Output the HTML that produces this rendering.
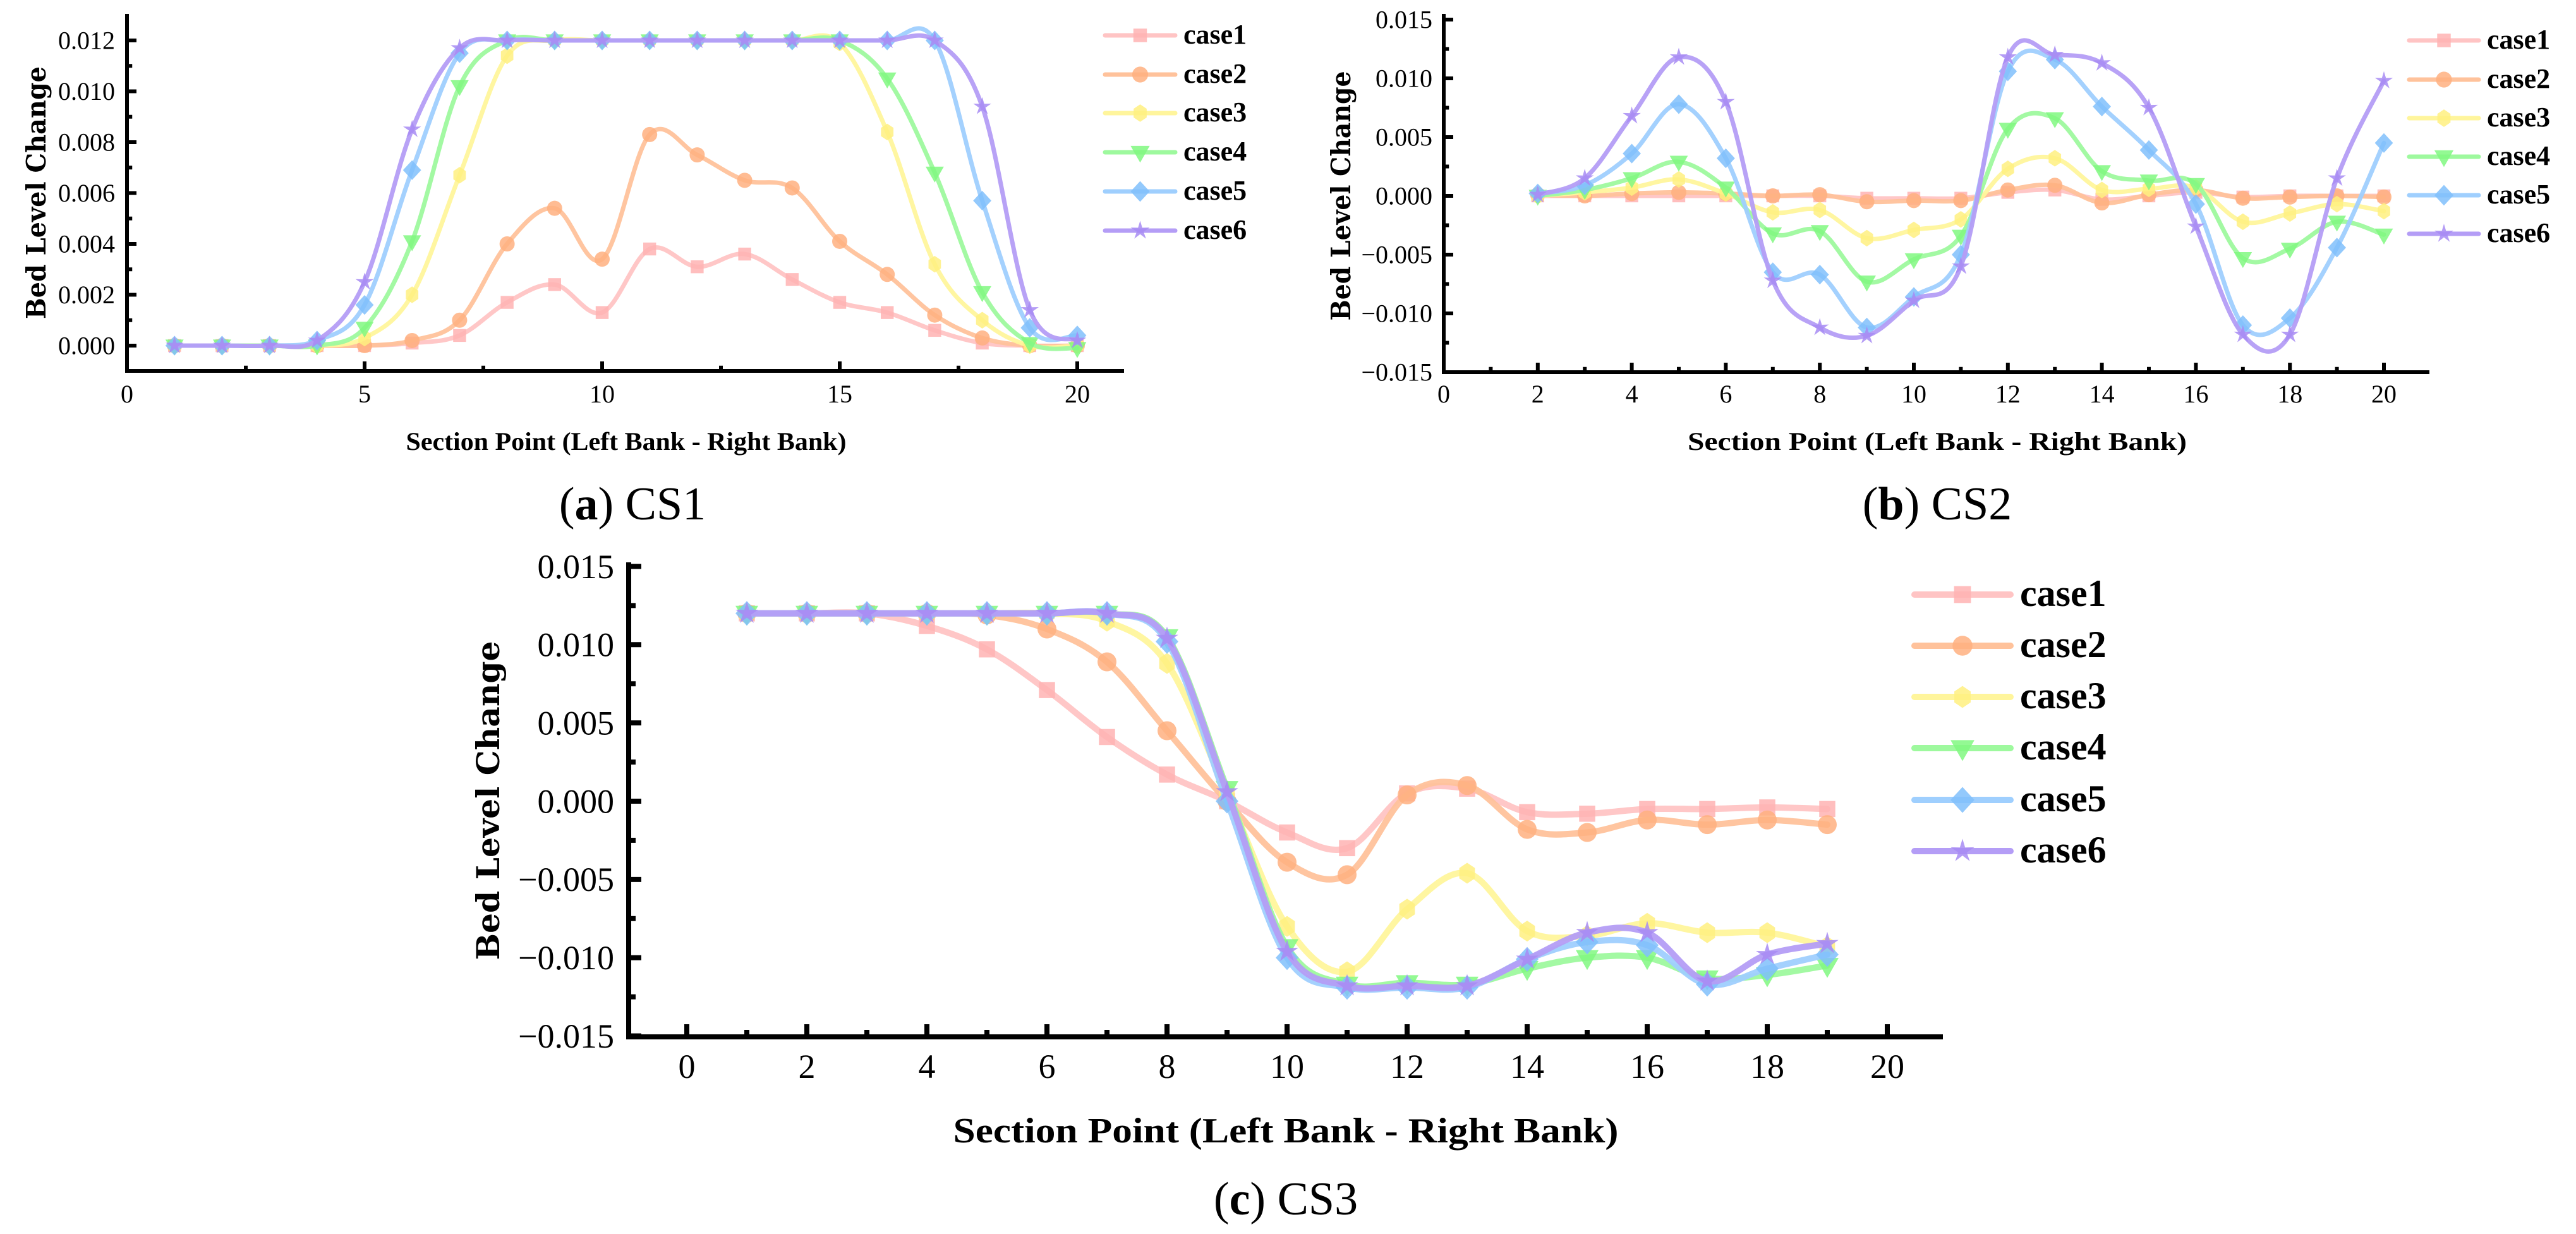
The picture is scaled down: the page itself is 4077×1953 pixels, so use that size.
<!DOCTYPE html>
<html><head><meta charset="utf-8">
<style>
html,body{margin:0;padding:0;background:#fff;}
svg{display:block;}
text{font-family:"Liberation Serif","Times New Roman",serif;fill:#000;}
</style></head>
<body>
<svg id="fig" width="4077" height="1953" viewBox="0 0 4077 1953" xmlns="http://www.w3.org/2000/svg"></svg>
<script>
// ---- data: panel (a) CS1 ----
const xA = [1,2,3,4,5,6,7,8,9,10,11,12,13,14,15,16,17,18,19,20];
const a_case1 = [0,0,0,0,0,0.0001,0.0004,0.0017,0.0024,0.0013,0.0038,0.0031,0.0036,0.0026,0.0017,0.0013,0.0006,0.0001,0,0];
const a_case2 = [0,0,0,0,0,0.0002,0.0010,0.0040,0.0054,0.0034,0.0083,0.0075,0.0065,0.0062,0.0041,0.0028,0.0012,0.0003,0,0];
const a_case3 = [0,0,0,0,0.0003,0.0020,0.0067,0.0114,0.0120,0.0120,0.0120,0.0120,0.0120,0.0120,0.0119,0.0084,0.0032,0.0010,0,0];
const a_case4 = [0,0,0,0,0.0007,0.0041,0.0102,0.0120,0.0120,0.0120,0.0120,0.0120,0.0120,0.0120,0.0120,0.0105,0.0068,0.0021,0.0001,-0.0001];
const a_case5 = [0,0,0,0.0002,0.0016,0.0069,0.0115,0.0120,0.0120,0.0120,0.0120,0.0120,0.0120,0.0120,0.0120,0.0120,0.0120,0.0057,0.0007,0.0004];
const a_case6 = [0,0,0,0.0002,0.0025,0.0085,0.0117,0.0120,0.0120,0.0120,0.0120,0.0120,0.0120,0.0120,0.0120,0.0120,0.0120,0.0094,0.0014,0.0002];
const a_xticks = [0,5,10,15,20];
const a_yticks = [0,0.002,0.004,0.006,0.008,0.010,0.012];
const a_ylabels = ["0.000","0.002","0.004","0.006","0.008","0.010","0.012"];
// ---- data: panel (b) CS2 ----
const xB = [2,3,4,5,6,7,8,9,10,11,12,13,14,15,16,17,18,19,20];
const b_case1 = [0,0,0,0,0,0,0,-0.0002,-0.0002,-0.0002,0.0003,0.0005,-0.0003,0,0.0003,-0.0001,0,0,0];
const b_case2 = [0.0001,0,0.0002,0.0003,0.0002,0,0.0001,-0.0005,-0.0004,-0.0004,0.0005,0.0009,-0.0006,0.0001,0.0005,-0.0002,-0.0001,0,-0.0001];
const b_case3 = [0,0.0003,0.0007,0.0014,0.0002,-0.0014,-0.0012,-0.0036,-0.0029,-0.0020,0.0023,0.0032,0.0005,0.0006,0.0007,-0.0022,-0.0015,-0.0007,-0.0013];
const b_case4 = [0,0.0005,0.0015,0.0029,0.0007,-0.0032,-0.0030,-0.0073,-0.0054,-0.0034,0.0057,0.0066,0.0021,0.0013,0.0010,-0.0053,-0.0045,-0.0022,-0.0033];
const b_case5 = [0.0002,0.0009,0.0036,0.0078,0.0032,-0.0065,-0.0067,-0.0112,-0.0086,-0.0050,0.0106,0.0116,0.0076,0.0039,-0.0007,-0.0110,-0.0104,-0.0044,0.0045];
const b_case6 = [0.0001,0.0015,0.0068,0.0118,0.0080,-0.0072,-0.0112,-0.0119,-0.0089,-0.0060,0.0118,0.0120,0.0113,0.0075,-0.0026,-0.0118,-0.0118,0.0015,0.0098];
const b_xticks = [0,2,4,6,8,10,12,14,16,18,20];
const b_yticks = [-0.015,-0.010,-0.005,0,0.005,0.010,0.015];
const b_ylabels = ["\u22120.015","\u22120.010","\u22120.005","0.000","0.005","0.010","0.015"];
// ---- data: panel (c) CS3 ----
const xC = [1,2,3,4,5,6,7,8,9,10,11,12,13,14,15,16,17,18,19];
const c_case1 = [0.012,0.012,0.012,0.0112,0.0097,0.0071,0.0041,0.0017,0,-0.0020,-0.0030,0.0005,0.0008,-0.0007,-0.0008,-0.0005,-0.0005,-0.0004,-0.0005];
const c_case2 = [0.012,0.012,0.012,0.012,0.0119,0.0110,0.0089,0.0045,0,-0.0039,-0.0047,0.0004,0.0010,-0.0018,-0.0020,-0.0012,-0.0015,-0.0012,-0.0015];
const c_case3 = [0.012,0.012,0.012,0.012,0.012,0.012,0.0115,0.0088,0.0005,-0.0080,-0.0109,-0.0069,-0.0046,-0.0083,-0.0086,-0.0078,-0.0084,-0.0084,-0.0093];
const c_case4 = [0.012,0.012,0.012,0.012,0.012,0.012,0.012,0.0105,0.0008,-0.0093,-0.0117,-0.0116,-0.0117,-0.0107,-0.0100,-0.0100,-0.0113,-0.0111,-0.0105];
const c_case5 = [0.012,0.012,0.012,0.012,0.012,0.012,0.012,0.0102,0,-0.0100,-0.0119,-0.0119,-0.0119,-0.0101,-0.0090,-0.0092,-0.0117,-0.0107,-0.0098];
const c_case6 = [0.012,0.012,0.012,0.012,0.012,0.012,0.012,0.0104,0.0006,-0.0096,-0.0118,-0.0118,-0.0118,-0.0101,-0.0084,-0.0084,-0.0115,-0.0098,-0.0091];
const c_xticks = [0,2,4,6,8,10,12,14,16,18,20];
const c_yticks = [-0.015,-0.010,-0.005,0,0.005,0.010,0.015];
const c_ylabels = ["\u22120.015","\u22120.010","\u22120.005","0.000","0.005","0.010","0.015"];
const seriesNames = ["case1","case2","case3","case4","case5","case6"];

const NS = "http://www.w3.org/2000/svg";
const svg = document.getElementById('fig');
const lineCol = ["#ffc4c4","#ffc29b","#fff59c","#9ef99e","#9fcffe","#b49df6"];
const mkCol = ["#ffb3b3","#ffb080","#fff080","#80f880","#80c0fc","#a78bf3"];
const shapes = ["square","circle","hex","tri","diamond","star"];

function el(tag, attrs, parent){
  const e = document.createElementNS(NS, tag);
  for (const k in attrs) e.setAttribute(k, attrs[k]);
  (parent||svg).appendChild(e); return e;
}
function txt(s, attrs, parent){ const t = el('text', attrs, parent); t.textContent = s; return t; }

function smoothPath(pts){
  let d = "M"+pts[0][0]+","+pts[0][1];
  for (let i=0;i<pts.length-1;i++){
    const p0=pts[Math.max(0,i-1)], p1=pts[i], p2=pts[i+1], p3=pts[Math.min(pts.length-1,i+2)];
    const t=0.17;
    const c1=[p1[0]+(p2[0]-p0[0])*t, p1[1]+(p2[1]-p0[1])*t];
    const c2=[p2[0]-(p3[0]-p1[0])*t, p2[1]-(p3[1]-p1[1])*t];
    d += " C"+c1[0]+","+c1[1]+" "+c2[0]+","+c2[1]+" "+p2[0]+","+p2[1];
  }
  return d;
}
function marker(shape, cx, cy, r, col, parent){
  let e;
  if (shape==="square") e = el('rect',{x:cx-r*0.85,y:cy-r*0.85,width:r*1.7,height:r*1.7},parent);
  else if (shape==="circle") e = el('ellipse',{cx:cx,cy:cy,rx:r,ry:r},parent);
  else if (shape==="hex"){ let p=[]; for(let k=0;k<6;k++){const a=Math.PI/2+k*Math.PI/3; p.push((cx+r*0.95*Math.cos(a))+","+(cy+r*1.1*Math.sin(a)));} e=el('polygon',{points:p.join(" ")},parent); }
  else if (shape==="tri") e = el('polygon',{points:(cx-r*1.2)+","+(cy-r*0.8)+" "+(cx+r*1.2)+","+(cy-r*0.8)+" "+cx+","+(cy+r*1.3)},parent);
  else if (shape==="diamond") e = el('polygon',{points:cx+","+(cy-r*1.3)+" "+(cx+r*1.2)+","+cy+" "+cx+","+(cy+r*1.3)+" "+(cx-r*1.2)+","+cy},parent);
  else { let p=[]; for(let k=0;k<10;k++){const a=-Math.PI/2+k*Math.PI/5; const rr=(k%2?0.45:1.25)*r; p.push((cx+rr*Math.cos(a))+","+(cy+rr*Math.sin(a)));} e=el('polygon',{points:p.join(" ")},parent); }
  e.setAttribute('fill', col); e.setAttribute('fill-opacity','0.85');
  return e;
}

function drawChart(c){
  const g = el('g',{});
  
  
  const X = v => c.x0 + v*c.xs;
  const Y = v => c.y0 - v*c.ys;
  c.series.forEach((ys, si) => {
    const pts = c.xs_data.map((xv,i)=>[X(xv), Y(ys[i])]);
    const sg = el('g',{}, g);
    
    
    const p = el('path',{d:smoothPath(pts),fill:'none',stroke:lineCol[si],'stroke-width':c.lw,'stroke-linecap':'round','stroke-opacity':'0.95'}, sg);
    
    
    pts.forEach(pt => {
      const m = marker(shapes[si], pt[0], pt[1], c.mr, mkCol[si], sg);
      
      
    });
  });
  const ax = el('path',{d:"M"+c.axX+","+c.top+" L"+c.axX+","+c.bot+" L"+c.right+","+c.bot,fill:'none',stroke:'#000','stroke-width':c.aw}, g);
  
  
  c.yticks.forEach((v,i)=>{
    const y=Y(v);
    el('line',{x1:c.axX,x2:c.axX+c.tl,y1:y,y2:y,stroke:'#000','stroke-width':c.aw},g);
    if (i<c.yticks.length-1){ const ym=Y((v+c.yticks[i+1])/2); el('line',{x1:c.axX,x2:c.axX+c.tl*0.55,y1:ym,y2:ym,stroke:'#000','stroke-width':c.aw},g); }
    const t = txt(c.ylabels[i],{x:c.ylx,y:y+c.tf*0.34,'font-size':c.tf,'text-anchor':'end'},g);
    
    
  });
  c.xticks.forEach((v,i)=>{
    const x=X(v);
    el('line',{x1:x,x2:x,y1:c.bot,y2:c.bot-c.tl,stroke:'#000','stroke-width':c.aw},g);
    if (i<c.xticks.length-1){ const xm=X((v+c.xticks[i+1])/2); el('line',{x1:xm,x2:xm,y1:c.bot,y2:c.bot-c.tl*0.55,stroke:'#000','stroke-width':c.aw},g); }
    const t = txt(String(v),{x:x,y:c.xly,'font-size':c.tf,'text-anchor':'middle'},g);
    
    
  });
  const xt = txt("Section Point (Left Bank - Right Bank)",{x:c.xtx,y:c.xty,'font-size':c.xtf,'font-weight':'bold','text-anchor':'middle',textLength:c.xtl,lengthAdjust:'spacingAndGlyphs'},g);
  
  
  const yt = txt("Bed Level Change",{x:0,y:0,'font-size':c.ytf,'font-weight':'bold','text-anchor':'middle',textLength:c.ytl,lengthAdjust:'spacingAndGlyphs',transform:"translate("+c.ytx+","+c.yty+") rotate(-90)",style:'font-family:"DejaVu Serif",serif'},g);
  
  
  const lg = el('g',{},g);
  
  
  seriesNames.forEach((n,i)=>{
    const y=c.legY[i];
    const e = el('g',{},lg);
    
    
    el('line',{x1:c.legX1,x2:c.legX2,y1:y,y2:y,stroke:lineCol[i],'stroke-width':c.lw,'stroke-linecap':'round'},e);
    marker(shapes[i],(c.legX1+c.legX2)/2,y,c.mr*1.05,mkCol[i],e);
    txt(n,{x:c.legTX,y:y+c.lf*0.3,'font-size':c.lf,'font-weight':'bold'},e);
  });
  const cap = txt("",{x:c.capx,y:c.capy,'font-size':c.capf,'text-anchor':'middle'},g);
  
  
  const t1 = el('tspan',{},cap); t1.textContent="(";
  const t2 = el('tspan',{'font-weight':'bold'},cap); t2.textContent=c.capL;
  const t3 = el('tspan',{},cap); t3.textContent=") "+c.capT;
}

drawChart({name:'chart-cs1', x0:201, xs:75.2, y0:547, ys:40250, axX:201, top:22, bot:587, right:1779,
  xs_data:xA, series:[a_case1,a_case2,a_case3,a_case4,a_case5,a_case6],
  xticks:a_xticks, yticks:a_yticks, ylabels:a_ylabels, tl:15, aw:6, tf:40, ylx:182, xly:637,
  lw:7, mr:12, xtx:991, xty:712, xtf:40, xtl:697, ytx:72, yty:305, ytf:42, ytl:400,
  legX1:1749, legX2:1860, legTX:1873, legY:[56,118,179,241,303,365], lf:44,
  capx:1001, capy:822, capf:74, capL:"a", capT:"CS1"});
drawChart({name:'chart-cs2', x0:2285, xs:74.4, y0:310, ys:18600, axX:2285, top:22, bot:589, right:3845,
  xs_data:xB, series:[b_case1,b_case2,b_case3,b_case4,b_case5,b_case6],
  xticks:b_xticks, yticks:b_yticks, ylabels:b_ylabels, tl:15, aw:6, tf:40, ylx:2267, xly:637,
  lw:7, mr:12, xtx:3066, xty:712, xtf:40, xtl:790, ytx:2137, yty:310, ytf:42, ytl:395,
  legX1:3813, legX2:3923, legTX:3936, legY:[64,126,187,248,309,370], lf:44,
  capx:3066, capy:822, capf:74, capL:"b", capT:"CS2"});
drawChart({name:'chart-cs3', x0:1087, xs:95, y0:1268, ys:24770, axX:995, top:890, bot:1641, right:3075,
  xs_data:xC, series:[c_case1,c_case2,c_case3,c_case4,c_case5,c_case6],
  xticks:c_xticks, yticks:c_yticks, ylabels:c_ylabels, tl:20, aw:8, tf:54, ylx:972, xly:1706,
  lw:10, mr:15, xtx:2035, xty:1808, xtf:56, xtl:1053, ytx:790, yty:1267, ytf:50, ytl:505,
  legX1:3030, legX2:3182, legTX:3197, legY:[941,1022,1103,1184,1266,1347], lf:60,
  capx:2035, capy:1922, capf:74, capL:"c", capT:"CS3"});
</script>
</body></html>
